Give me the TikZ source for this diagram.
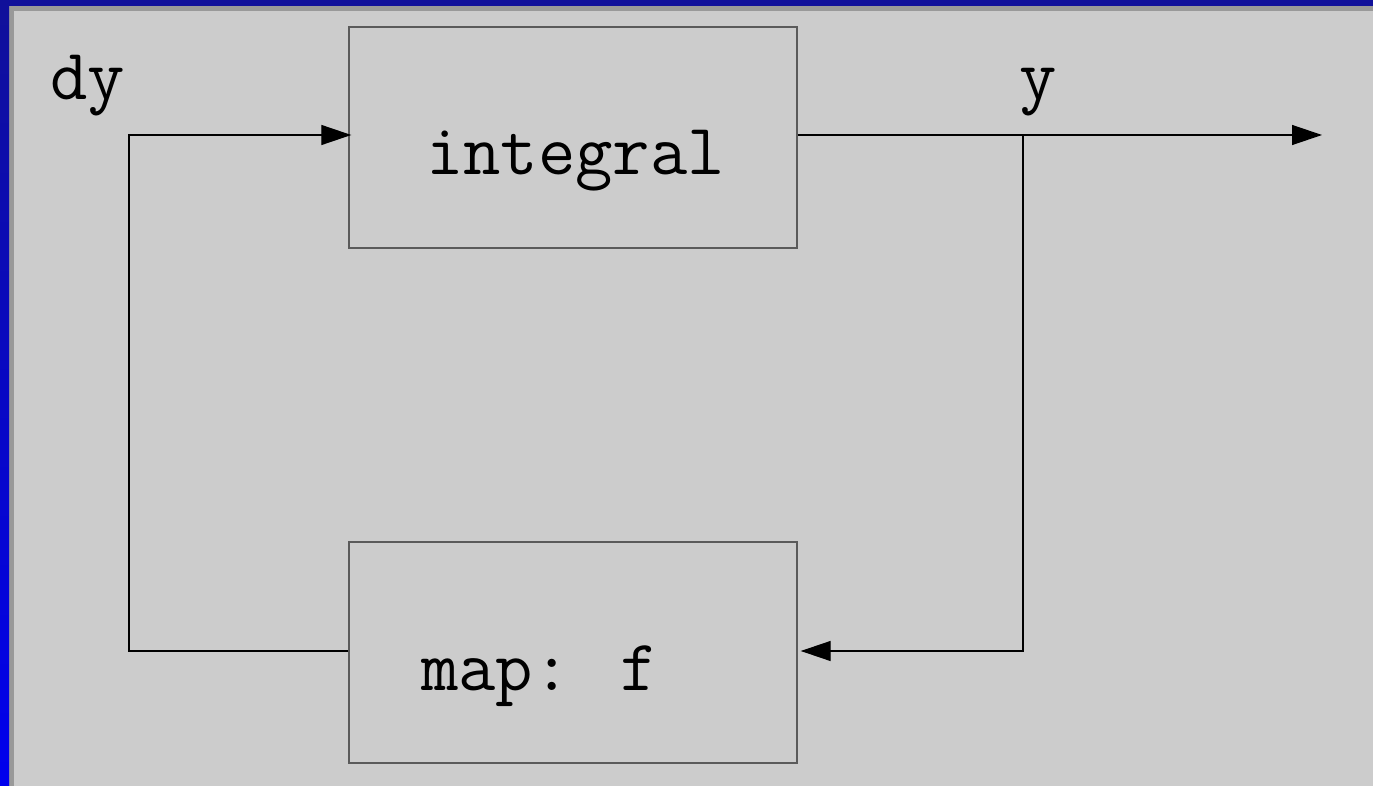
\documentclass[tikz,border=0pt]{standalone}
\usepackage{fontspec}
\usetikzlibrary{arrows.meta}
\definecolor{bg}{HTML}{CCCCCC}
\definecolor{strip}{HTML}{999999}
\definecolor{navy}{HTML}{10109A}
\definecolor{bblue}{HTML}{0000EE}
\definecolor{boxline}{HTML}{5A5A5A}
\tikzset{
  block/.style={draw=boxline, line width=1.4pt, rectangle, minimum width=448pt, minimum height=221pt, inner sep=0pt},
  lbl/.style={font=\ttfamily\fontsize{72.5}{80}\selectfont, inner sep=0pt, anchor=base west},
  wire/.style={draw=black, line width=1.3pt},
  conn/.style={wire, -{Triangle[length=30pt,width=20pt]}},
}
\begin{document}
\begin{tikzpicture}[x=1pt,y=-1pt]
\useasboundingbox (0,0) rectangle (1373,786);
% background and frame
\fill[bg] (0,0) rectangle (1373,786);
\fill[strip] (9,6) rectangle (1373,11);
\fill[strip] (9,6) rectangle (14,786);
\fill[navy] (0,0) rectangle (1373,6);
\shade[top color=navy, bottom color=bblue] (0,0) rectangle (9,786);
% blocks
\node[block] (integ) at (573,137.5) {};
\node[block] (map) at (573,652.5) {};
\node[lbl] (tint) at (426,175) {integral};
\node[lbl] (tmap) at (421,690) {map: f};
\node[lbl] (tdy) at (50,100) {dy};
\node[lbl] (ty) at (1019,100) {y};
% coordinates
\coordinate (tl) at (129,135);
\coordinate (bl) at (129,651);
\coordinate (tr) at (1023,135);
\coordinate (br) at (1023,651);
\coordinate (out) at (1322,135);
% connectors
\draw[conn] (map.west |- bl) -- (bl) -- (tl) -- ([xshift=3pt]tl -| integ.west);
\draw[conn] (integ.east |- tr) -- (out);
\draw[conn] (tr) -- (br) -- ([xshift=3pt]br -| map.east);
\end{tikzpicture}
\end{document}
